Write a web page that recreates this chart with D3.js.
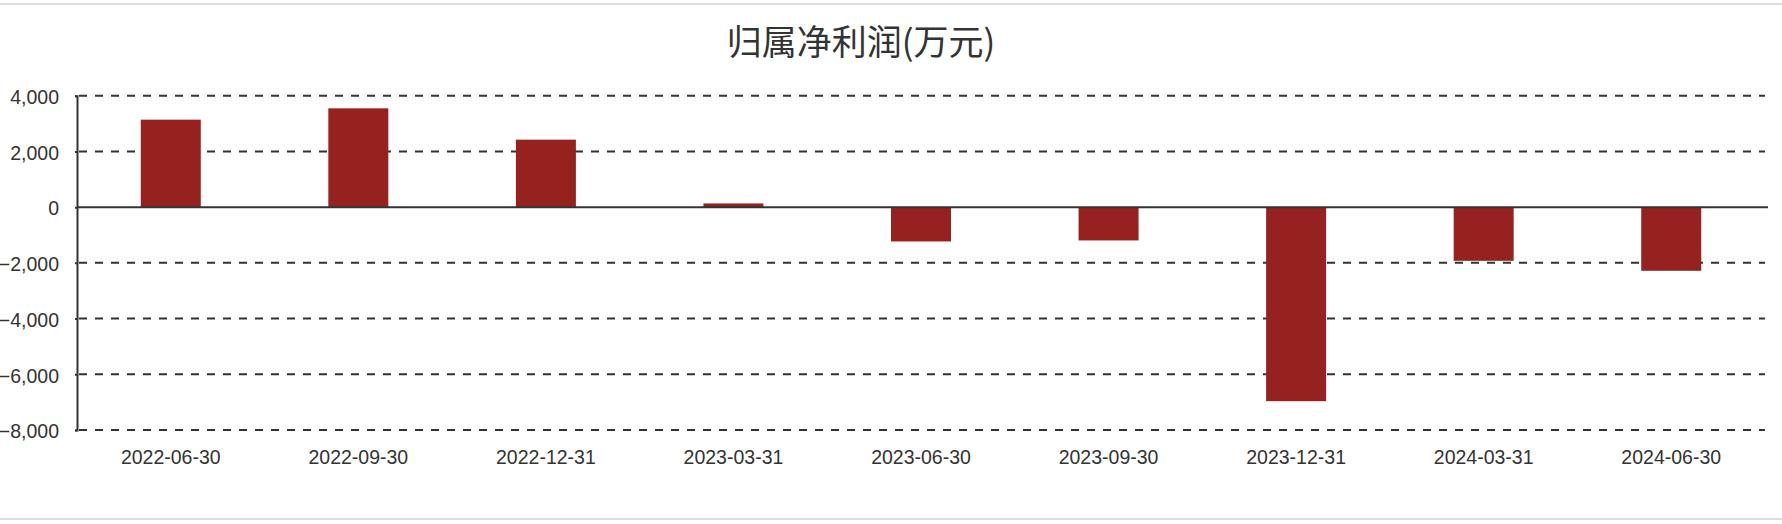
<!DOCTYPE html>
<html>
<head>
<meta charset="utf-8">
<script src="https://cdn.jsdelivr.net/npm/d3@7"></script>
<style>
  body { margin: 0; background: #fff; }
  svg { display: block; }
  .tick-label { font-family: "Liberation Sans", Arial, sans-serif; font-size: 19.5px; fill: #333; }
</style>
</head>
<body>
<div id="chart-area"></div>
<script>
const chartWidth = 1782
const chartHeight = 524

const margin = {top: 96, right: 17, bottom: 94, left: 77}

// data
const periods = ["2022-06-30", "2022-09-30", "2022-12-31", "2023-03-31", "2023-06-30", "2023-09-30", "2023-12-31", "2024-03-31", "2024-06-30"];
const profits = [3140, 3547, 2422, 133, -1232, -1196, -6965, -1926, -2285];
const yTicks = [4000, 2000, 0, -2000, -4000, -6000, -8000];
const titleText = "归属净利润(万元)";

const svg = d3.select("#chart-area").append("svg")
    .attr("width", chartWidth)
    .attr("height", chartHeight);

// light frame lines top and bottom
svg.append("rect").attr("x", 0).attr("y", 3).attr("width", chartWidth).attr("height", 2).attr("fill", "#ddd");
svg.append("rect").attr("x", 0).attr("y", 518).attr("width", chartWidth).attr("height", 2).attr("fill", "#ddd");

const x = d3.scaleBand()
    .domain(periods)
    .range([margin.left, chartWidth - margin.right])
    .padding(0);

const y = d3.scaleLinear()
    .domain([-8000, 4000])
    .range([chartHeight - margin.bottom, margin.top - 0.3]);

// dashed grid lines
svg.append("g")
    .selectAll("line")
    .data(yTicks.filter(d => d !== 0))
    .enter()
    .append("line")
    .attr("x1", margin.left + 2)
    .attr("x2", chartWidth - margin.right)
    .attr("y1", d => y(d))
    .attr("y2", d => y(d))
    .attr("stroke", "#333")
    .attr("stroke-width", 2)
    .attr("stroke-dasharray", "8,8");

// bars
const barWidth = 60;
svg.append("g")
    .selectAll("rect")
    .data(profits)
    .enter()
    .append("rect")
    .attr("x", (d, i) => x(periods[i]) + x.bandwidth() / 2 - barWidth / 2)
    .attr("y", d => y(Math.max(0, d)))
    .attr("width", barWidth)
    .attr("height", d => Math.abs(y(d) - y(0)))
    .attr("fill", "#96221f");

// y axis
const yAxisCall = d3.axisLeft(y)
    .tickValues(yTicks)
    .tickSize(2)
    .tickPadding(16)
    .tickFormat(d3.format(","));

const yAxis = svg.append("g")
    .attr("transform", `translate(${margin.left}, 0)`)
    .call(yAxisCall);
yAxis.select(".domain").attr("stroke", "#333").attr("stroke-width", 2);
yAxis.selectAll(".tick line").attr("stroke", "#333").attr("stroke-width", 2);
yAxis.selectAll(".tick text")
    .attr("class", "tick-label")
    .attr("dy", "0.4em");
yAxis.attr("font-family", null).attr("font-size", null);

// zero line
svg.append("line")
    .attr("x1", margin.left)
    .attr("x2", chartWidth - margin.right + 3)
    .attr("y1", y(0))
    .attr("y2", y(0))
    .attr("stroke", "#333")
    .attr("stroke-width", 2);

// x axis labels
const xAxisCall = d3.axisBottom(x).tickSize(0).tickPadding(20);
const xAxis = svg.append("g")
    .attr("transform", `translate(0, ${chartHeight - margin.bottom})`)
    .call(xAxisCall);
xAxis.select(".domain").remove();
xAxis.attr("font-family", null).attr("font-size", null);
xAxis.selectAll(".tick text").attr("class", "tick-label");

// title
svg.append("text")
    .attr("x", 861)
    .attr("y", 42)
    .attr("dy", "0.36em")
    .attr("text-anchor", "middle")
    .attr("font-family", "'Noto Sans CJK SC', sans-serif")
    .attr("font-size", "35px")
    .attr("fill", "#333")
    .text(titleText);
</script>
</body>
</html>
